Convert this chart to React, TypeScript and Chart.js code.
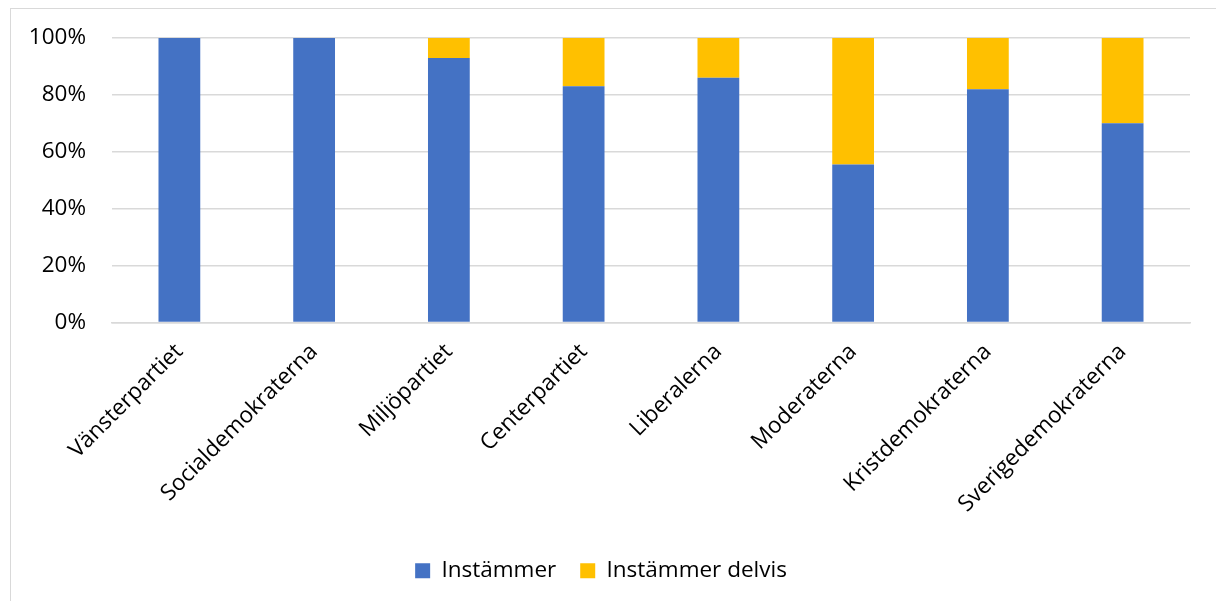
import React, { useEffect, useRef } from "react";
import { Chart, registerables } from "chart.js";

Chart.register(...registerables);

const categories = [
  "Vänsterpartiet",
  "Socialdemokraterna",
  "Miljöpartiet",
  "Centerpartiet",
  "Liberalerna",
  "Moderaterna",
  "Kristdemokraterna",
  "Sverigedemokraterna",
];
const instammer = [100, 100, 93, 83, 86, 55.5, 82, 70];
const instammerDelvis = [0, 0, 7, 17, 14, 44.5, 18, 30];
const yTicks = [0, 20, 40, 60, 80, 100];

const FONT = "'Open Sans', 'Noto Sans', sans-serif";

export default function App() {
  const ref = useRef<HTMLCanvasElement>(null);
  useEffect(() => {
    const ctx = ref.current!;
    const chart = new Chart(ctx, {
      type: "bar",
      data: {
        labels: categories,
        datasets: [
          {
            label: "Instämmer",
            data: instammer,
            backgroundColor: "#4472C4",
            barPercentage: 0.62,
            categoryPercentage: 0.5,
          },
          {
            label: "Instämmer delvis",
            data: instammerDelvis,
            backgroundColor: "#FFC000",
            barPercentage: 0.62,
            categoryPercentage: 0.5,
          },
        ],
      },
      options: {
        animation: false,
        responsive: false,
        maintainAspectRatio: false,
        layout: { padding: { top: 38, left: 12, right: 26, bottom: 9 } },
        plugins: {
          tooltip: { enabled: false },
          title: { display: false },
          legend: {
            position: "bottom",
            labels: {
              boxWidth: 15,
              boxHeight: 15,
              padding: 24,
              color: "#000",
              font: { family: FONT, size: 22.5 },
            },
          },
        },
        scales: {
          x: {
            stacked: true,
            grid: { display: false },
            border: { display: true, color: "#d9d9d9", width: 1.5 },
            ticks: {
              color: "#000",
              font: { family: FONT, size: 22.5 },
              minRotation: 45,
              maxRotation: 45,
              padding: 8,
            },
            afterFit: (s: any) => {
              s.height = 213;
            },
          },
          y: {
            stacked: true,
            min: 0,
            max: 100,
            afterBuildTicks: (s: any) => {
              s.ticks = yTicks.map((v) => ({ value: v }));
            },
            grid: { color: "#d9d9d9", lineWidth: 1.5, drawTicks: false },
            border: { display: false },
            ticks: {
              color: "#000",
              font: { family: FONT, size: 22.5 },
              padding: 26,
              callback: (v: any) => v + "%",
            },
            afterFit: (s: any) => {
              s.width = 100;
              s.paddingTop = 0;
              s.paddingBottom = 0;
            },
          },
        },
      },
    });
    return () => chart.destroy();
  }, []);

  return (
    <div style={{ position: "fixed", left: 0, top: 0, width: 1216, height: 601, background: "#fff", overflow: "hidden" }}>
      <div
        style={{
          position: "absolute",
          left: 10,
          top: 8,
          width: 1300,
          height: 700,
          border: "1.5px solid #d9d9d9",
          boxSizing: "border-box",
        }}
      />
      <canvas ref={ref} width={1216} height={601} style={{ position: "absolute", left: 0, top: 0 }} />
    </div>
  );
}
